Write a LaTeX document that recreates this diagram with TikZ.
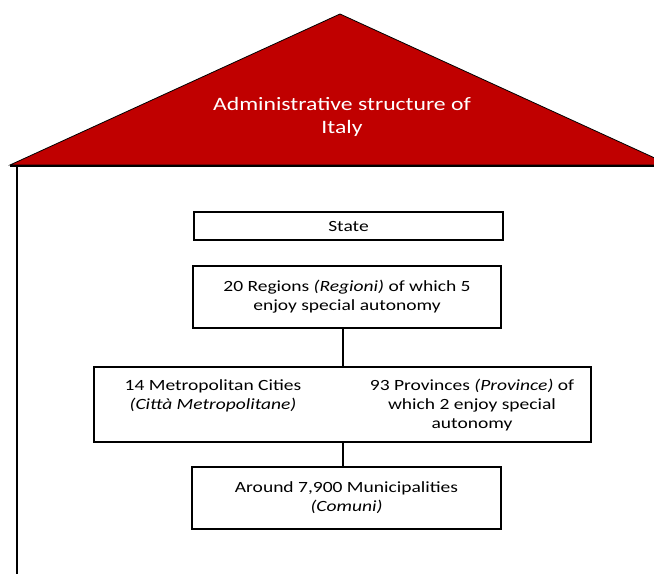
\documentclass[tikz,border=0pt]{standalone}
\usepackage{fontspec}
\setmainfont[FakeStretch=1.25]{Carlito}
\usetikzlibrary{positioning}
\definecolor{roofred}{RGB}{192,0,0}
\tikzset{
  tier/.style={draw, line width=1.5pt, align=center, inner sep=0pt,
    font=\fontsize{11.7}{14.2}\selectfont},
  tiertext/.style={align=center, inner sep=0pt, font=\fontsize{11.7}{14.2}\selectfont},
}

\begin{document}
\begin{tikzpicture}[x=0.75pt,y=-0.75pt]
        \useasboundingbox (0,0) rectangle (654,574);
        % roof
        \begin{scope}
          \clip (0,0) rectangle (654,574);
          \draw[fill=roofred, line width=0.6pt] (10,165) -- (340,14) -- (670,165) -- cycle;
        \end{scope}
        \node[white, align=center, font=\fontsize{14.2}{17.3}\selectfont] (title) at (342,117) {Administrative structure of\\Italy};
        \draw[line width=1.8pt] (10,166) -- (654,166);
        \draw[line width=1.5pt] (17,166) -- (17,574);
        % tiers
        \node[tier, minimum width=231.75pt, minimum height=21pt] (state) at (348.5,226) {State};
        \node[tier, minimum width=231pt, minimum height=46.5pt] (regions) at (347,297) {20 Regions \textit{(Regioni)} of which 5\\enjoy special autonomy};
        \node[tier, minimum width=372.75pt, minimum height=56.25pt] (mid) at (342.5,404.5) {};
        \node[tiertext] (metro) at (213,395.5) {14 Metropolitan Cities\\\textit{(Città Metropolitane)}};
        \node[tiertext] (prov) at (472,405) {93 Provinces \textit{(Province)} of\\which 2 enjoy special\\autonomy};
        \node[tier, minimum width=231.75pt, minimum height=46.5pt] (comuni) at (346.5,498) {Around 7,900 Municipalities\\\textit{(Comuni)}};
        \draw[line width=1.5pt] (mid.north |- regions.south) -- (mid.north);
        \draw[line width=1.5pt] (mid.south) -- (mid.south |- comuni.north);
\end{tikzpicture}
\end{document}
